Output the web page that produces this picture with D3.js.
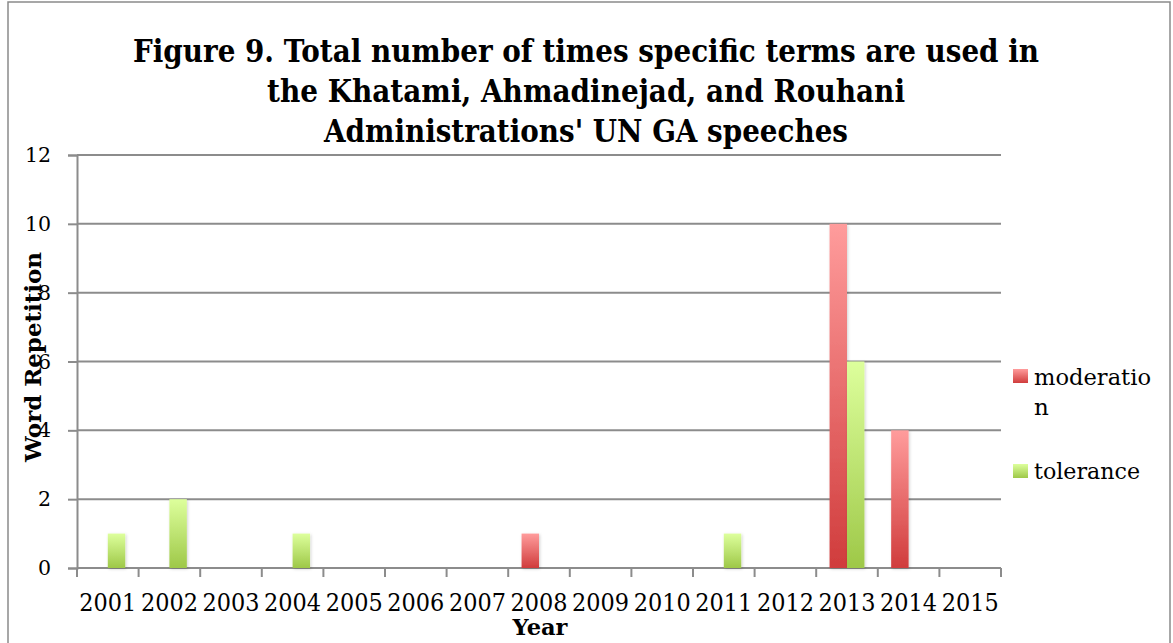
<!DOCTYPE html>
<html>
<head>
<meta charset="utf-8">
<script src="https://cdnjs.cloudflare.com/ajax/libs/d3/7.8.5/d3.min.js"></script>
<style>
  body { margin: 0; background: #fff; }
  text { font-family: "DejaVu Serif", serif; fill: #000; }
</style>
</head>
<body>
<div id="chart"></div>
<script>
// data
var years = ["2001", "2002", "2003", "2004", "2005", "2006", "2007", "2008",
             "2009", "2010", "2011", "2012", "2013", "2014", "2015"];
var moderation = [0, 0, 0, 0, 0, 0, 0, 1, 0, 0, 0, 0, 10, 4, 0];
var tolerance  = [1, 2, 0, 1, 0, 0, 0, 0, 0, 0, 1, 0, 6, 0, 0];
var seriesNames = ["moderation", "tolerance"];
var yTicks = [0, 2, 4, 6, 8, 10, 12];
var titleLines = [
  "Figure 9. Total number of times specific terms are used in",
  "the Khatami, Ahmadinejad, and Rouhani",
  "Administrations' UN GA speeches"
];

var width = 1173, height = 643;
var margin = {top: 155, left: 77, right: 172, bottom: 75};
var plotW = width - margin.left - margin.right;   // ~924
var plotH = height - margin.top - margin.bottom;  // ~413

var svg = d3.select("#chart").append("svg")
    .attr("width", width)
    .attr("height", height);

// gradients for bars
var defs = svg.append("defs");
var grads = [
  {id: "gMod", top: "#ff9c9c", bottom: "#d03c3c"},
  {id: "gTol", top: "#ddff9c", bottom: "#9ec848"}
];
grads.forEach(function(g) {
  var lg = defs.append("linearGradient")
      .attr("id", g.id).attr("x1", 0).attr("y1", 0).attr("x2", 0).attr("y2", 1);
  lg.append("stop").attr("offset", "0%").attr("stop-color", g.top);
  lg.append("stop").attr("offset", "100%").attr("stop-color", g.bottom);
});
var shadow = defs.append("filter").attr("id", "shadow")
    .attr("x", "-30%").attr("y", "-10%").attr("width", "160%").attr("height", "120%");
shadow.append("feDropShadow").attr("dx", 1).attr("dy", 1)
    .attr("stdDeviation", 1.5).attr("flood-color", "#000").attr("flood-opacity", 0.18);

// outer frame
svg.append("path")
    .attr("d", "M8,650 L8,2 L1170,2 L1170,650")
    .attr("fill", "none")
    .attr("stroke", "#8a8a8a")
    .attr("stroke-width", 1.5);

// title
svg.append("g").selectAll("text")
    .data(titleLines)
    .enter().append("text")
    .attr("x", 586)
    .attr("y", function(d, i) { return 62 + i * 40; })
    .attr("text-anchor", "middle")
    .attr("font-weight", "bold")
    .attr("font-size", 32)
    .attr("textLength", function(d, i) { return [906, 638, 524][i]; })
    .attr("lengthAdjust", "spacingAndGlyphs")
    .text(function(d) { return d; });

var g = svg.append("g")
    .attr("transform", "translate(" + margin.left + "," + margin.top + ")");

var x = d3.scaleBand().domain(years).range([0, plotW]);
var y = d3.scaleLinear().domain([0, 12]).range([plotH, 0]);
var barW = x.bandwidth() * 0.283;
var xs = d3.scaleBand().domain(seriesNames)
    .range([x.bandwidth() / 2 - barW, x.bandwidth() / 2 + barW]);

// gridlines
g.append("g").selectAll("line")
    .data(yTicks.slice(1))
    .enter().append("line")
    .attr("x1", 0).attr("x2", plotW)
    .attr("y1", function(d) { return y(d); })
    .attr("y2", function(d) { return y(d); })
    .attr("stroke", "#8c8c8c")
    .attr("stroke-width", 2);

// y axis
var yAxis = g.append("g")
    .call(d3.axisLeft(y).tickValues(yTicks).tickSize(9).tickPadding(17));
yAxis.select(".domain").attr("stroke", "#8c8c8c").attr("stroke-width", 2);
yAxis.selectAll(".tick line").attr("stroke", "#8c8c8c").attr("stroke-width", 2);
yAxis.selectAll(".tick text")
    .attr("font-family", "DejaVu Serif")
    .attr("font-size", 20.5)
    .attr("fill", "#000");

// x axis with ticks on category boundaries
var xAxis = g.append("g")
    .attr("transform", "translate(0," + plotH + ")");
xAxis.append("line")
    .attr("x1", 0).attr("x2", plotW)
    .attr("stroke", "#8c8c8c").attr("stroke-width", 2);
xAxis.selectAll(".bt")
    .data(years.concat(["end"]))
    .enter().append("line")
    .attr("class", "bt")
    .attr("x1", function(d, i) { return i * x.step(); })
    .attr("x2", function(d, i) { return i * x.step(); })
    .attr("y1", 0).attr("y2", 9)
    .attr("stroke", "#8c8c8c").attr("stroke-width", 2);
xAxis.selectAll(".lbl")
    .data(years)
    .enter().append("text")
    .attr("class", "lbl")
    .attr("x", function(d) { return x(d) + x.bandwidth() / 2; })
    .attr("y", 43)
    .attr("text-anchor", "middle")
    .attr("font-size", 25)
    .attr("textLength", 57)
    .attr("lengthAdjust", "spacingAndGlyphs")
    .text(function(d) { return d; });

// bars
var rows = years.map(function(yr, i) {
  return {year: yr, values: [
    {key: "moderation", value: moderation[i]},
    {key: "tolerance", value: tolerance[i]}
  ]};
});
g.append("g").selectAll("g")
    .data(rows)
    .enter().append("g")
    .attr("transform", function(d) { return "translate(" + x(d.year) + ",0)"; })
    .selectAll("rect")
    .data(function(d) { return d.values.filter(function(v) { return v.value > 0; }); })
    .enter().append("rect")
    .attr("x", function(d) { return xs(d.key); })
    .attr("width", xs.bandwidth())
    .attr("y", function(d) { return y(d.value); })
    .attr("height", function(d) { return y(0) - y(d.value); })
    .attr("fill", function(d) { return d.key === "moderation" ? "url(#gMod)" : "url(#gTol)"; })
    .attr("filter", "url(#shadow)");

// axis titles
svg.append("text")
    .attr("x", 540).attr("y", 635)
    .attr("text-anchor", "middle")
    .attr("font-weight", "bold")
    .attr("font-size", 22)
    .attr("textLength", 55)
    .attr("lengthAdjust", "spacingAndGlyphs")
    .text("Year");

svg.append("text")
    .attr("transform", "translate(41,357) rotate(-90)")
    .attr("text-anchor", "middle")
    .attr("font-weight", "bold")
    .attr("font-size", 22)
    .attr("textLength", 210)
    .attr("lengthAdjust", "spacingAndGlyphs")
    .text("Word Repetition");

// legend
var legend = svg.append("g");
legend.append("rect")
    .attr("x", 1013).attr("y", 369).attr("width", 15).attr("height", 14)
    .attr("fill", "url(#gMod)");
legend.append("text")
    .attr("x", 1034).attr("y", 385)
    .attr("font-size", 23)
    .attr("textLength", 117)
    .attr("lengthAdjust", "spacingAndGlyphs")
    .text("moderatio");
legend.append("text")
    .attr("x", 1034).attr("y", 415)
    .attr("font-size", 23)
    .text("n");
legend.append("rect")
    .attr("x", 1013).attr("y", 464).attr("width", 15).attr("height", 14)
    .attr("fill", "url(#gTol)");
legend.append("text")
    .attr("x", 1034).attr("y", 479)
    .attr("font-size", 23)
    .attr("textLength", 106)
    .attr("lengthAdjust", "spacingAndGlyphs")
    .text("tolerance");
</script>
</body>
</html>
